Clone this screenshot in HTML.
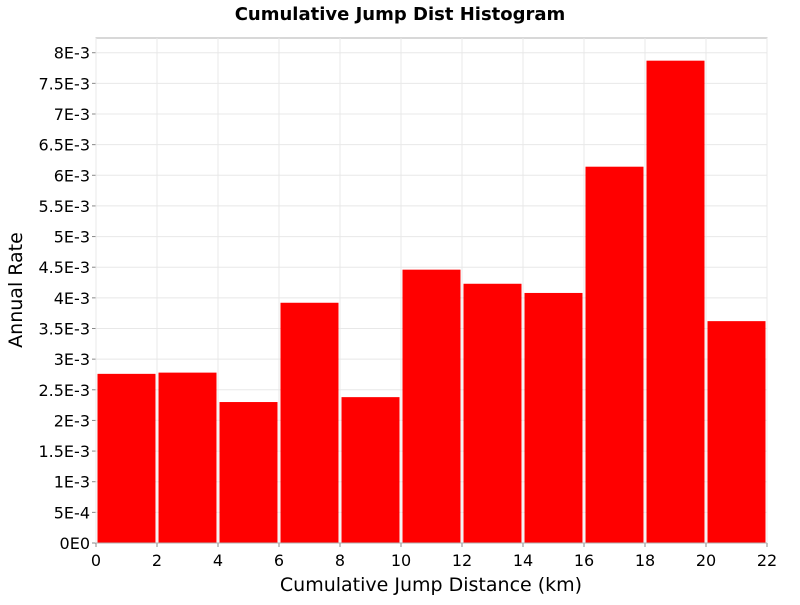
<!DOCTYPE html>
<html><head><meta charset="utf-8"><style>
body{margin:0;background:#fff;font-family:"Liberation Sans","DejaVu Sans",sans-serif}
</style></head><body>
<svg id="c" width="800" height="600" xmlns="http://www.w3.org/2000/svg" font-family="DejaVu Sans, Liberation Sans, sans-serif"></svg>
<script>
const binStarts=[0,2,4,6,8,10,12,14,16,18,20];
const binWidth=2;
const values=[2.76,2.78,2.30,3.92,2.38,4.46,4.23,4.08,6.14,7.87,3.62];
const xTicks=[0,2,4,6,8,10,12,14,16,18,20,22];
const yTicks=[0,0.5,1,1.5,2,2.5,3,3.5,4,4.5,5,5.5,6,6.5,7,7.5,8];
const yTickLabels=["0E0","5E-4","1E-3","1.5E-3","2E-3","2.5E-3","3E-3","3.5E-3","4E-3","4.5E-3","5E-3","5.5E-3","6E-3","6.5E-3","7E-3","7.5E-3","8E-3"];
const L=96,R=767,T=38,B=543,xMax=22,yMax=8.24;
const sx=v=>L+v/xMax*(R-L), sy=v=>B-v/yMax*(B-T);
const svg=document.getElementById('c');const NS='http://www.w3.org/2000/svg';
function mk(t,a,p){const e=document.createElementNS(NS,t);for(const k in a)e.setAttribute(k,a[k]);(p||svg).appendChild(e);return e;}
const bg=mk('rect',{x:L,y:T,width:R-L,height:B-T,fill:'#fff',stroke:'#b0b0b0'});

yTicks.forEach((v,i)=>{
 const g=mk('line',{x1:L,x2:R,y1:sy(v),y2:sy(v),stroke:'#e8e8e8'});
 
 mk('line',{x1:L-4,x2:L,y1:sy(v),y2:sy(v),stroke:'#888'});
 const t=mk('text',{x:L-6,y:sy(v)+6,'text-anchor':'end','font-size':16,fill:'#000'});t.textContent=yTickLabels[i];
 
});
xTicks.forEach(v=>{
 const g=mk('line',{x1:sx(v),x2:sx(v),y1:T,y2:B,stroke:'#e8e8e8'});
 
 mk('line',{x1:sx(v),x2:sx(v),y1:B,y2:B+4,stroke:'#888'});
 const t=mk('text',{x:sx(v),y:B+23,'text-anchor':'middle','font-size':16,fill:'#000'});t.textContent=v;
 
});
values.forEach((v,i)=>{
 const x0=sx(binStarts[i])+1.5,x1=sx(binStarts[i]+binWidth)-1.5;
 const r=mk('rect',{x:x0,y:sy(v),width:x1-x0,height:B-sy(v),fill:'#ff0000'});
 
});
mk('line',{x1:L,x2:R,y1:B,y2:B,stroke:'#b0b0b0'});
const ti=mk('text',{x:400,y:20,'text-anchor':'middle','font-size':18,'font-weight':'bold'});ti.textContent='Cumulative Jump Dist Histogram';

const xt=mk('text',{x:431,y:591,'text-anchor':'middle','font-size':19});xt.textContent='Cumulative Jump Distance (km)';

const yt=mk('text',{x:0,y:0,'text-anchor':'middle','font-size':19,transform:'translate(22,290) rotate(-90)'});yt.textContent='Annual Rate';

</script>
</body></html>
